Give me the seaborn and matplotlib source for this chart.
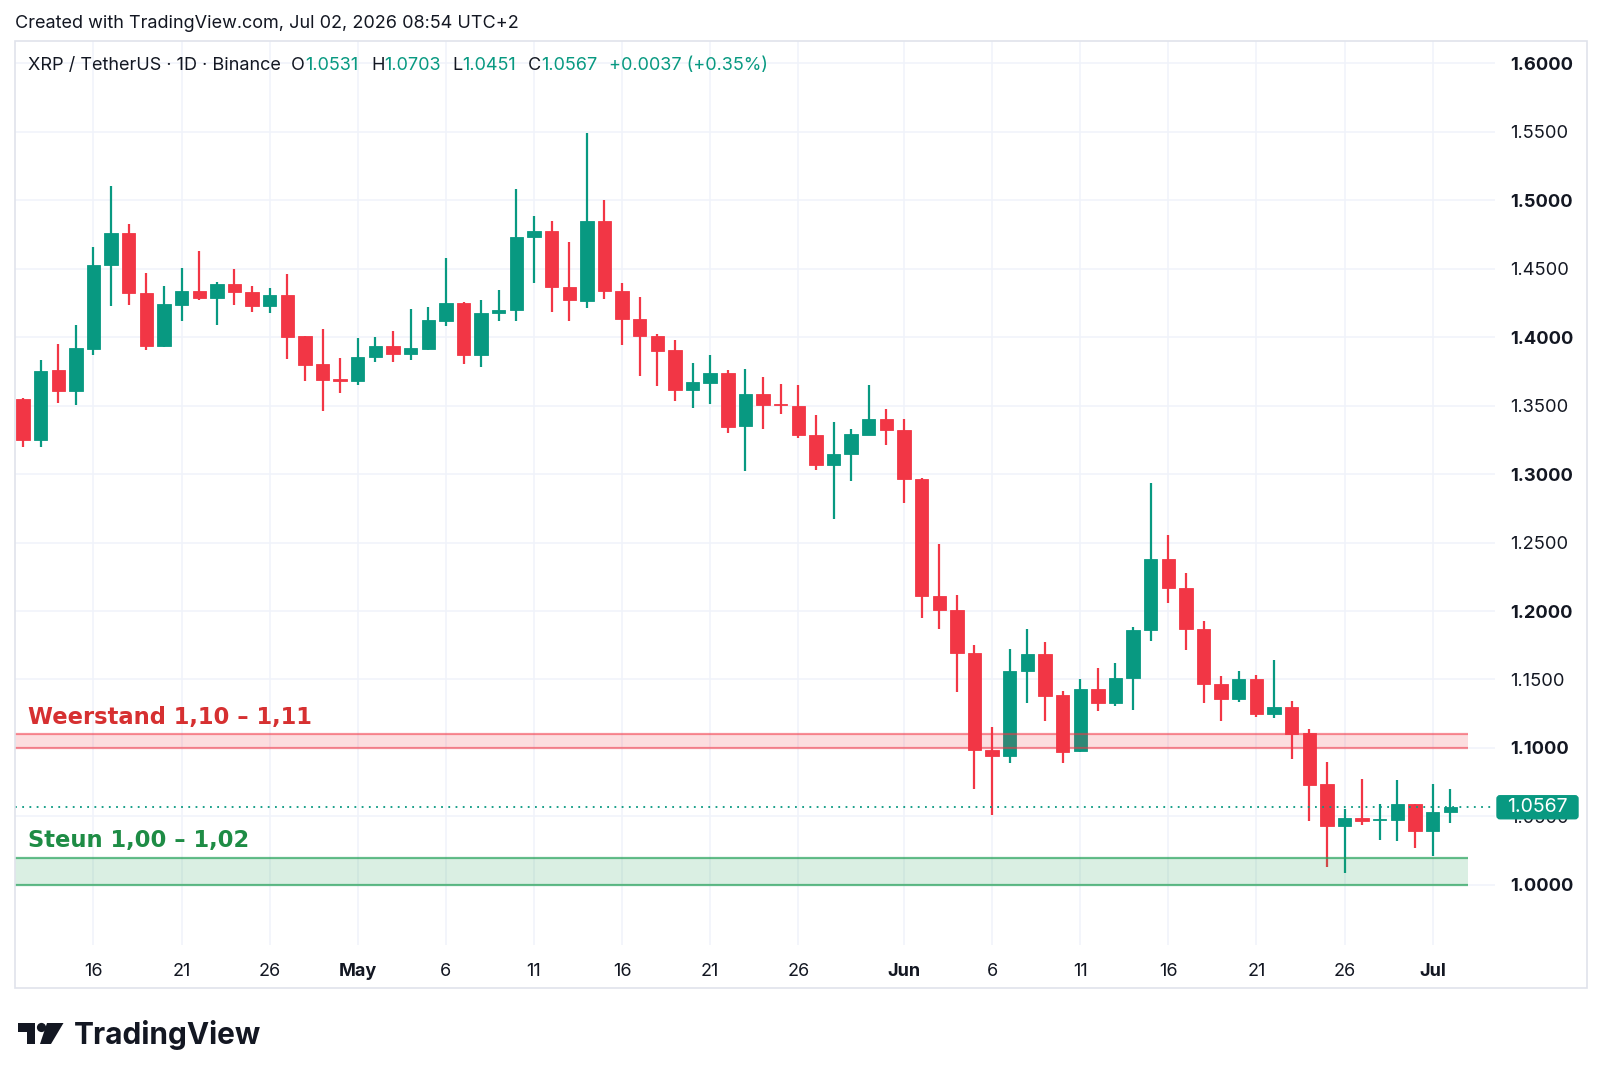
import numpy as np
import pandas as pd
import matplotlib
matplotlib.use("Agg")
import matplotlib.pyplot as plt
import seaborn as sns
from matplotlib.patches import Rectangle, Circle, Polygon, FancyBboxPatch
from matplotlib.transforms import blended_transform_factory

# XRP/USDT daily candles, Binance, 12 Apr - 2 Jul 2026
dates = pd.date_range("2026-04-12", "2026-07-02", freq="D")

opens = [1.3547, 1.3246, 1.3758, 1.3610, 1.3914, 1.4526, 1.4759, 1.4322, 1.3938, 1.4237,
         1.4337, 1.4284, 1.4386, 1.4328, 1.4228, 1.4306, 1.4007, 1.3801, 1.3692, 1.3677,
         1.3855, 1.3935, 1.3879, 1.3913, 1.4121, 1.4248, 1.3867, 1.4177, 1.4202, 1.4733,
         1.4774, 1.4369, 1.4267, 1.4850, 1.4340, 1.4134, 1.4012, 1.3903, 1.3612, 1.3668,
         1.3738, 1.3350, 1.3583, 1.3515, 1.3500, 1.3289, 1.3068, 1.3146, 1.3289, 1.3403,
         1.3325, 1.2966, 1.2112, 1.2007, 1.1694, 1.0983, 1.0940, 1.1561, 1.1689, 1.1384,
         1.0976, 1.1432, 1.1325, 1.1510, 1.1862, 1.2381, 1.2170, 1.1867, 1.1466, 1.1354,
         1.1500, 1.1248, 1.1296, 1.1107, 1.0734, 1.0428, 1.0487, 1.0474, 1.0477, 1.0589,
         1.0397, 1.0531]
highs = [1.3557, 1.3836, 1.3953, 1.4086, 1.4662, 1.5102, 1.4825, 1.4468, 1.4371, 1.4502,
         1.4626, 1.4405, 1.4500, 1.4374, 1.4362, 1.4461, 1.4010, 1.4061, 1.3847, 1.3995,
         1.4002, 1.4044, 1.4209, 1.4219, 1.4575, 1.4255, 1.4270, 1.4347, 1.5080, 1.4886,
         1.4850, 1.4692, 1.5493, 1.5000, 1.4396, 1.4291, 1.4024, 1.3976, 1.3811, 1.3867,
         1.3762, 1.3770, 1.3711, 1.3660, 1.3648, 1.3434, 1.3381, 1.3333, 1.3653, 1.3476,
         1.3405, 1.2970, 1.2486, 1.2119, 1.1755, 1.1153, 1.1723, 1.1871, 1.1772, 1.1415,
         1.1505, 1.1585, 1.1617, 1.1884, 1.2935, 1.2558, 1.2279, 1.1925, 1.1529, 1.1563,
         1.1534, 1.1641, 1.1342, 1.1141, 1.0900, 1.0555, 1.0776, 1.0591, 1.0766, 1.0592,
         1.0737, 1.0703]
lows = [1.3197, 1.3197, 1.3520, 1.3506, 1.3870, 1.4225, 1.4237, 1.3907, 1.3930, 1.4115,
        1.4269, 1.4090, 1.4235, 1.4184, 1.4180, 1.3837, 1.3677, 1.3461, 1.3592, 1.3648,
        1.3816, 1.3816, 1.3835, 1.3903, 1.4078, 1.3806, 1.3782, 1.4117, 1.4121, 1.4398,
        1.4182, 1.4117, 1.4214, 1.4279, 1.3944, 1.3719, 1.3641, 1.3534, 1.3481, 1.3510,
        1.3301, 1.3025, 1.3330, 1.3442, 1.3265, 1.3029, 1.2675, 1.2947, 1.3282, 1.3209,
        1.2791, 1.1949, 1.1867, 1.1406, 1.0699, 1.0510, 1.0893, 1.1325, 1.1197, 1.0893,
        1.0970, 1.1270, 1.1306, 1.1277, 1.1782, 1.2058, 1.1719, 1.1330, 1.1194, 1.1337,
        1.1223, 1.1221, 1.0920, 1.0466, 1.0128, 1.0090, 1.0440, 1.0331, 1.0324, 1.0270,
        1.0209, 1.0451]
closes = [1.3246, 1.3753, 1.3610, 1.3919, 1.4529, 1.4759, 1.4320, 1.3938, 1.4239, 1.4337,
          1.4288, 1.4386, 1.4330, 1.4231, 1.4308, 1.4002, 1.3799, 1.3689, 1.3680, 1.3857,
          1.3935, 1.3876, 1.3920, 1.4126, 1.4248, 1.3867, 1.4180, 1.4202, 1.4735, 1.4772,
          1.4369, 1.4274, 1.4850, 1.4340, 1.4134, 1.4012, 1.3896, 1.3612, 1.3670, 1.3738,
          1.3345, 1.3583, 1.3507, 1.3503, 1.3284, 1.3068, 1.3148, 1.3294, 1.3403, 1.3325,
          1.2964, 1.2112, 1.2007, 1.1690, 1.0983, 1.0940, 1.1561, 1.1689, 1.1376, 1.0971,
          1.1432, 1.1325, 1.1512, 1.1864, 1.2383, 1.2170, 1.1867, 1.1466, 1.1359, 1.1500,
          1.1248, 1.1296, 1.1100, 1.0731, 1.0430, 1.0487, 1.0467, 1.0482, 1.0589, 1.0397,
          1.0530, 1.0567]

resistance = (1.10, 1.11)
support = (1.00, 1.02)
last_price = 1.0567

price_ticks = [1.00, 1.05, 1.10, 1.15, 1.20, 1.25, 1.30, 1.35, 1.40, 1.45, 1.50, 1.55, 1.60]
date_ticks = ["2026-04-16", "2026-04-21", "2026-04-26", "2026-05-01", "2026-05-06", "2026-05-11",
              "2026-05-16", "2026-05-21", "2026-05-26", "2026-06-01", "2026-06-06", "2026-06-11",
              "2026-06-16", "2026-06-21", "2026-06-26", "2026-07-01"]
date_labels = ["16", "21", "26", "May", "6", "11", "16", "21", "26", "Jun", "6", "11", "16", "21", "26", "Jul"]

GREEN = "#089981"
RED = "#F23645"
GRID = "#f0f3fa"
TEXT = "#131722"
W, H = 1602, 1080

sns.set_theme(style="white")
plt.rcParams["font.family"] = ["Inter", "DejaVu Sans"]

df = pd.DataFrame({"date": dates, "open": opens, "high": highs, "low": lows, "close": closes})
df["i"] = (df["date"] - dates[0]).dt.days
df["up"] = df["close"] >= df["open"]
df["color"] = np.where(df["up"], GREEN, RED)

fig = plt.figure(figsize=(W / 100, H / 100), dpi=100)
fig.patch.set_facecolor("white")


def px_rect(x0, y0, x1, y1):
    return [x0 / W, 1 - y1 / H, (x1 - x0) / W, (y1 - y0) / H]


ax = fig.add_axes(px_rect(15, 41, 1495, 945))
ax.set_facecolor("white")
x_left, x_right = -0.454, 83.54
y_low, y_high = 0.9561, 1.6163
ax.set_xlim(x_left, x_right)
ax.set_ylim(y_low, y_high)
for s in ax.spines.values():
    s.set_visible(False)

# candles
ax.vlines(df["i"], df["low"], df["high"], colors=df["color"], lw=1.6, zorder=2)
body_h = np.maximum((df["close"] - df["open"]).abs(), 0.0009)
ax.bar(df["i"], body_h, bottom=np.minimum(df["open"], df["close"]), width=0.76,
       color=df["color"], edgecolor=df["color"], lw=0.6, zorder=3)

# zones
band_end = 82.0
ax.fill_between([x_left, band_end], resistance[0], resistance[1], color=RED, alpha=0.17, lw=0, zorder=4)
ax.hlines(resistance, x_left, band_end, colors=RED, alpha=0.55, lw=1.6, zorder=4)
ax.fill_between([x_left, band_end], support[0], support[1], color="#26a25a", alpha=0.17, lw=0, zorder=4)
ax.hlines(support, x_left, band_end, colors="#26a25a", alpha=0.7, lw=1.6, zorder=4)

bt = blended_transform_factory(ax.transAxes, ax.transData)
ax.text(0.0088, 1.1175, "Weerstand 1,10 – 1,11", transform=bt, color="#d63031", fontsize=16.3,
        fontweight="bold", family="DejaVu Sans", va="baseline", zorder=6)
ax.text(0.0088, 1.0275, "Steun 1,00 – 1,02", transform=bt, color="#1e8c45", fontsize=16.3,
        fontweight="bold", family="DejaVu Sans", va="baseline", zorder=6)

# last price line
ax.axhline(last_price, color=GREEN, lw=1.3, ls=(0, (1, 3)), zorder=3)

# axes ticks and grid
tick_idx = [(pd.Timestamp(d) - dates[0]).days for d in date_ticks]
ax.set_xticks(tick_idx)
ax.set_xticklabels(date_labels)
ax.set_yticks(price_ticks)
ax.set_yticklabels([f"{v:.4f}" for v in price_ticks])
ax.yaxis.tick_right()
ax.grid(True, color=GRID, lw=1.1, zorder=0)
ax.set_axisbelow(True)
ax.tick_params(axis="y", length=0, pad=11, labelsize=13.2, labelcolor=TEXT)
ax.tick_params(axis="x", length=0, pad=13, labelsize=13, labelcolor=TEXT)
for lab in ax.get_xticklabels():
    if lab.get_text().isalpha():
        lab.set_fontweight("bold")
for lab, v in zip(ax.get_yticklabels(), price_ticks):
    if abs(v * 10 - round(v * 10)) < 1e-6:
        lab.set_fontweight("bold")

# overlay in pixel coords for frame, header, price tag and logo
ov = fig.add_axes([0, 0, 1, 1])
ov.set_xlim(0, W)
ov.set_ylim(H, 0)
ov.axis("off")
ov.patch.set_alpha(0)
ov.add_patch(Rectangle((15, 41), 1572, 947, fill=False, ec="#e0e3eb", lw=1.2))

# price tag sits on the price scale at the last close
tag_y = 41 + (y_high - last_price) / (y_high - y_low) * (945 - 41)
ov.add_patch(FancyBboxPatch((1497, tag_y - 11.5), 81, 23, boxstyle="round,pad=0,rounding_size=3",
                            fc=GREEN, ec=GREEN, lw=1, zorder=5))
ov.text(1537.5, tag_y, f"{last_price:.4f}", fontsize=14, color="white", ha="center", va="center", zorder=6)

ov.text(15, 24, "Created with TradingView.com, Jul 02, 2026 08:54 UTC+2", fontsize=13,
        color=TEXT, va="center", ha="left")

renderer = fig.canvas.get_renderer()


def put_row(x, y, parts):
    for txt, col in parts:
        t = ov.text(x, y, txt, fontsize=13, color=col, va="center", ha="left")
        x += t.get_window_extent(renderer=renderer).width


put_row(28, 66, [("XRP / TetherUS · 1D · Binance", TEXT)])
put_row(291, 66, [("O", TEXT), (f"{opens[-1]:.4f}", GREEN)])
put_row(371, 66, [("H", TEXT), (f"{highs[-1]:.4f}", GREEN)])
put_row(452, 66, [("L", TEXT), (f"{lows[-1]:.4f}", GREEN)])
put_row(528, 66, [("C", TEXT), (f"{closes[-1]:.4f}", GREEN)])
put_row(609, 66, [("+0.0037 (+0.35%)", GREEN)])

# TradingView logo
ov.add_patch(Rectangle((18, 1023), 17, 9, color=TEXT, lw=0))
ov.add_patch(Rectangle((27, 1023), 8, 21, color=TEXT, lw=0))
ov.add_patch(Circle((41.5, 1027.5), 4.6, color=TEXT, lw=0))
ov.add_patch(Polygon([(47, 1023), (63.5, 1023), (51, 1044), (40, 1044)], closed=True, color=TEXT, lw=0))
ov.text(74, 1044, "TradingView", fontsize=21.5, fontweight="bold", color=TEXT, va="baseline", ha="left")

fig.savefig("out.png", dpi=100)
